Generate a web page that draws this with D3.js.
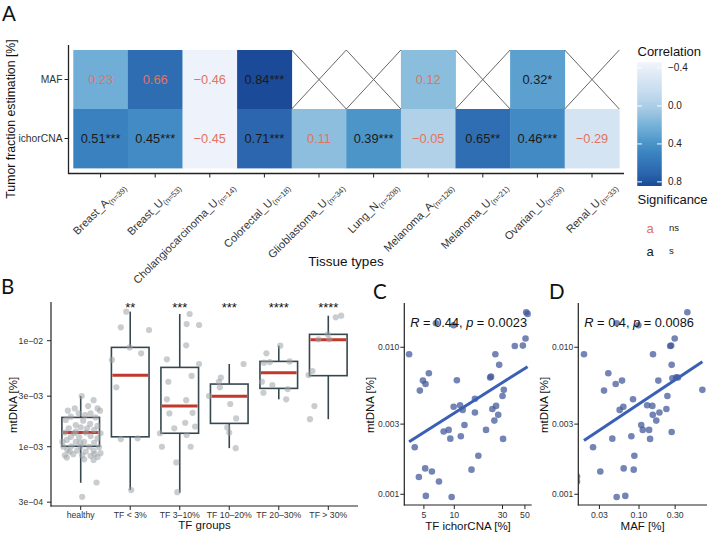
<!DOCTYPE html>
<html><head><meta charset="utf-8">
<script src="https://cdn.jsdelivr.net/npm/d3@7"></script>
<style>body{margin:0;background:#fff}svg{display:block}text{font-family:"Liberation Sans",Arial,sans-serif}</style>
</head><body><svg id="c" width="708" height="533"></svg>
<script>
// ---------------- DATA ----------------
const tissues = ["Breast_A","Breast_U","Cholangiocarcinoma_U","Colorectal_U","Glioblastoma_U","Lung_N","Melanoma_A","Melanoma_U","Ovarian_U","Renal_U"];
const tissueN = [39,53,14,18,34,208,126,21,59,33];
const methods = ["MAF","ichorCNA"];
const corMAF   = [0.23,0.66,-0.46,0.84,null,null,0.12,null,0.32,null];
const sigMAF   = ["","","","***",null,null,"",null,"*",null];
const corIchor = [0.51,0.45,-0.45,0.71,0.11,0.39,-0.05,0.65,0.46,-0.29];
const sigIchor = ["***","***","","***","","***","","**","***",""];
const corTicks = [-0.4,0.0,0.4,0.8];

const tfGroups = ["healthy","TF < 3%","TF 3–10%","TF 10–20%","TF 20–30%","TF > 30%"];
const groupStars = ["","**","***","***","****","****"];
const boxLow  = [0.000457,0.00039,0.000368,0.00097,0.0028,0.00182];
const boxQ1   = [0.00101,0.00124,0.00134,0.00166,0.00355,0.00468];
const boxMed  = [0.00136,0.00471,0.00242,0.00299,0.00499,0.0102];
const boxQ3   = [0.00189,0.00865,0.0056,0.0039,0.00638,0.01148];
const boxHigh = [0.00301,0.0188,0.01786,0.00603,0.00897,0.01722];
const bTicks = [0.0003,0.001,0.003,0.01];
const bTickLabels = ["3e\u221204","1e\u221203","3e\u221203","1e\u221202"];

const mtHealthy = [0.00301,0.00275,0.00242,0.00230,0.00219,0.00230,0.00219,0.00206,0.00199,0.00206,0.00192,0.00189,0.00179,0.00176,0.00160,0.00164,0.00157,0.00149,0.00152,0.00144,0.00136,0.00134,0.00136,0.00134,0.00124,0.00123,0.00126,0.00120,0.00116,0.00111,0.00111,0.00109,0.00100,0.00101,0.00100,0.00100,0.00099,0.00093,0.00092,0.00090,0.00092,0.00087,0.00083,0.00085,0.00083,0.00082,0.00080,0.00079,0.00075,0.00076,0.00046,0.000337,0.00139,0.00149,0.00111,0.00109,0.00090,0.00085];
const jitHealthy = [0.02,0.26,0.15,-0.12,-0.26,0.34,0.39,-0.04,0.09,0.20,-0.20,0.30,-0.30,0.05,-0.10,0.19,0.34,-0.24,0.00,0.27,-0.32,-0.13,0.10,0.40,-0.20,-0.03,0.20,0.34,-0.28,-0.10,0.07,0.27,-0.35,-0.19,0.00,0.17,0.37,-0.27,-0.07,0.10,0.26,0.40,-0.32,-0.15,0.03,0.20,0.34,-0.28,0.26,0.07,0.32,0.03,-0.10,0.13,-0.37,-0.01,-0.22,0.28];
const mtTF3 = [0.0188,0.01337,0.01262,0.00865,0.0076,0.00658,0.00363,0.00118,0.0012,0.00039];
const jitTF3 = [-0.08,-0.19,0.38,-0.01,0.22,-0.37,-0.28,-0.19,0.15,0.02];
const mtTF3to10 = [0.01786,0.01436,0.01406,0.00904,0.00667,0.00603,0.00465,0.00410,0.00275,0.00280,0.00206,0.00209,0.00168,0.00149,0.00155,0.00134,0.00129,0.00100,0.00100,0.000711,0.000373];
const jitTF3to10 = [0.20,0.14,0.39,0.13,-0.26,0.39,0.24,-0.23,0.13,-0.26,-0.21,0.26,0.11,-0.11,0.31,-0.40,0.14,-0.36,0.22,-0.07,-0.05];
const mtTF10to20 = [0.00603,0.00448,0.00410,0.00363,0.00301,0.00253,0.00185,0.00152,0.00136,0.00097];
const jitTF10to20 = [0.29,-0.17,-0.21,-0.19,-0.41,0.02,0.14,-0.04,0.00,0.13];
const mtTF20to30 = [0.00897,0.0076,0.00620,0.00629,0.00638,0.00410,0.00382,0.00350,0.00323,0.00280];
const jitTF20to30 = [0.03,-0.25,-0.30,-0.18,0.22,-0.34,-0.13,0.18,-0.31,0.15];
const mtTF30 = [0.0166,0.01722,0.01148,0.0103,0.0103,0.00518,0.00474,0.00242,0.00182];
const jitTF30 = [0.15,0.26,-0.01,-0.20,0.02,-0.32,-0.40,-0.28,-0.37];

const cTF = [3.57,4.06,4.46,4.56,4.89,5.15,5.19,5.23,5.60,6.00,6.58,7.05,7.84,8.79,9.13,9.41,9.85,9.85,10.6,11.4,11.6,12.1,12.6,14.8,16.0,16.0,17.3,20.6,22.6,23.1,23.8,24.9,25.5,25.9,27.2,27.8,30.0,30.4,30.9,39.7,47.7,50.7,51.5,53.1];
const cMt = [0.00896,0.00209,0.00131,0.00507,0.00593,0.00150,0.00563,0.000975,0.00665,0.00143,0.01455,0.00122,0.00267,0.00274,0.00239,0.000959,0.00394,0.01413,0.00597,0.00403,0.00248,0.00375,0.00296,0.00147,0.00446,0.00360,0.00183,0.00274,0.00622,0.00631,0.00380,0.00317,0.00896,0.00399,0.00347,0.00759,0.00466,0.00238,0.00513,0.0102,0.01026,0.01146,0.01730,0.01686];
const cFit = [[3.57,0.00228],[53.1,0.00738]];
const cR = "0.44", cP = "0.0023";
const cXTicks = [5,10,30,50];

const dMAF = [0.0152,0.0152,0.01875,0.0247,0.0308,0.0345,0.0393,0.0444,0.0492,0.0507,0.0507,0.0555,0.0596,0.0621,0.0627,0.0659,0.0792,0.0833,0.0851,0.0868,0.098,0.107,0.112,0.128,0.136,0.140,0.150,0.152,0.153,0.180,0.169,0.186,0.230,0.237,0.258,0.266,0.270,0.270,0.276,0.296,0.311,0.327,0.435,0.687];
const dMt = [0.00132,0.00122,0.00896,0.00209,0.00143,0.00507,0.00665,0.00239,0.00563,0.01455,0.000959,0.00375,0.00593,0.00394,0.00150,0.000975,0.00248,0.00443,0.00147,0.00183,0.01413,0.00296,0.00274,0.00403,0.00274,0.00238,0.00399,0.00347,0.00896,0.00593,0.00317,0.00360,0.00380,0.00466,0.0102,0.01026,0.00759,0.00265,0.00615,0.01146,0.00625,0.00622,0.0173,0.00513];
const dFit = [[0.01875,0.00232],[0.687,0.00798]];
const dR = "0.4", dP = "0.0086";
const dXTicks = [0.03,0.1,0.3];
const mtTicks = [0.001,0.003,0.01];

// ---------------- DRAW ----------------
const svg = d3.select("#c");
const AX = "#222", TXT = "#333", RED = "#e07460";

// panel letters
[["A",2,21],["B",1,294],["C",373,298.5],["D",549,298.5]].forEach(([t,x,y])=>
  svg.append("text").attr("x",x).attr("y",y).text(t)
    .style("font-family","Lato, 'Open Sans', sans-serif").style("font-size","20.5px").attr("fill","#111"));

// ===== Panel A =====
const gA = svg.append("g");
const hx = d3.scaleBand().domain(tissues).range([73.3,619.3]);
const hy = d3.scaleBand().domain(methods).range([50,168]);
const heatColor = d3.scaleLinear()
  .domain([-0.46,-0.29,-0.05,0.11,0.23,0.39,0.51,0.71,0.84])
  .range(["#eef3fb","#d5e4f3","#b1d1e8","#8dbedd","#70aed7","#4c95c9","#3a82bf","#2b66ae","#1b4b98"])
  .interpolate(d3.interpolateLab).clamp(true);
const cells = [];
methods.forEach((m,i)=>{
  const cor = i===0?corMAF:corIchor, sig = i===0?sigMAF:sigIchor;
  tissues.forEach((t,j)=>cells.push({m,t,v:cor[j],s:sig[j]}));
});
const bw = hx.bandwidth(), bh = hy.bandwidth();
gA.selectAll("rect.cell").data(cells.filter(d=>d.v!==null)).join("rect")
  .attr("x",d=>hx(d.t)).attr("y",d=>hy(d.m)).attr("width",bw+0.4).attr("height",bh+0.4)
  .attr("fill",d=>heatColor(d.v));
const na = cells.filter(d=>d.v===null);
gA.selectAll("line.x1").data(na).join("line")
  .attr("x1",d=>hx(d.t)).attr("y1",d=>hy(d.m)).attr("x2",d=>hx(d.t)+bw).attr("y2",d=>hy(d.m)+bh)
  .attr("stroke","#666").attr("stroke-width",1);
gA.selectAll("line.x2").data(na).join("line")
  .attr("x1",d=>hx(d.t)+bw).attr("y1",d=>hy(d.m)).attr("x2",d=>hx(d.t)).attr("y2",d=>hy(d.m)+bh)
  .attr("stroke","#666").attr("stroke-width",1);
const f2 = d3.format(".2f");
gA.selectAll("text.val").data(cells.filter(d=>d.v!==null)).join("text")
  .attr("x",d=>hx(d.t)+bw/2).attr("y",d=>hy(d.m)+bh/2).attr("dy","0.36em")
  .attr("text-anchor","middle").style("font-size","12.8px")
  .attr("fill",d=>d.s?"#1a1a1a":RED).text(d=>f2(d.v)+d.s);
// axes
gA.append("line").attr("x1",68.5).attr("x2",68.5).attr("y1",45).attr("y2",174).attr("stroke",AX).attr("stroke-width",1.3);
gA.append("line").attr("x1",68).attr("x2",624).attr("y1",173.5).attr("y2",173.5).attr("stroke",AX).attr("stroke-width",1.3);
methods.forEach(m=>{
  const y = hy(m)+bh/2;
  gA.append("line").attr("x1",64.5).attr("x2",68.5).attr("y1",y).attr("y2",y).attr("stroke",AX);
  gA.append("text").attr("x",62.5).attr("y",y).attr("dy","0.35em").attr("text-anchor","end")
    .style("font-size","10.3px").attr("fill",TXT).text(m);
});
tissues.forEach((t,j)=>{
  const x = hx(t)+bw/2;
  gA.append("line").attr("x1",x).attr("x2",x).attr("y1",173.5).attr("y2",177.5).attr("stroke",AX);
  const lab = gA.append("text").attr("transform",`translate(${x+25},${187.5}) rotate(-45)`)
    .attr("text-anchor","end").style("font-size","11px").attr("fill",TXT);
  lab.append("tspan").text(t);
  lab.append("tspan").attr("dy",2.8).style("font-size","7.8px").text(`(n=${tissueN[j]})`);
});
gA.append("text").attr("x",346).attr("y",266).attr("text-anchor","middle").style("font-size","13.5px").attr("fill","#111").text("Tissue types");
gA.append("text").attr("transform","translate(15,119) rotate(-90)").attr("text-anchor","middle")
  .style("font-size","12.3px").attr("fill","#111").text("Tumor fraction estimation [%]");

// legend
const gL = svg.append("g");
gL.append("text").attr("x",637.5).attr("y",55.5).style("font-size","13px").attr("fill","#111").text("Correlation");
const ly = d3.scaleLinear().domain([-0.46,0.84]).range([62.3,185.7]);
const nStrip = 124;
d3.range(nStrip).forEach(i=>{
  const v0 = -0.46 + i*1.30/nStrip;
  gL.append("rect").attr("x",637.3).attr("y",ly(v0)).attr("width",24.4).attr("height",ly(v0+1.30/nStrip)-ly(v0)+0.3)
    .attr("fill",heatColor(v0+0.65/nStrip));
});
const f1 = d3.format(".1f");
corTicks.forEach(v=>{
  const y = ly(v);
  gL.append("line").attr("x1",637.3).attr("x2",642).attr("y1",y).attr("y2",y).attr("stroke","#fff").attr("stroke-width",1);
  gL.append("line").attr("x1",657).attr("x2",661.7).attr("y1",y).attr("y2",y).attr("stroke","#fff").attr("stroke-width",1);
  gL.append("text").attr("x",668).attr("y",y).attr("dy","0.35em").style("font-size","10px").attr("fill","#222").text(f1(v));
});
gL.append("text").attr("x",637.5).attr("y",203.5).style("font-size","13px").attr("fill","#111").text("Significance");
[["ns",RED,228],["s","#1a1a1a",251]].forEach(([l,c,y])=>{
  gL.append("text").attr("x",650).attr("y",y).attr("dy","0.35em").attr("text-anchor","middle").style("font-size","13px").attr("fill",c).text("a");
  gL.append("text").attr("x",669).attr("y",y).attr("dy","0.3em").style("font-size","9.5px").attr("fill","#222").text(l);
});

// ===== Panel B =====
const gB = svg.append("g");
const bx = d3.scalePoint().domain(tfGroups).range([51,358]).padding(0.6);
const by = d3.scaleLog().domain([Math.pow(10,-3.559),Math.pow(10,-1.635)]).range([506,302]);
const step = bx.step(), boxW = step*0.76;
const BOX = "#37474f";
const pointsB = [];
[[mtHealthy,jitHealthy],[mtTF3,jitTF3],[mtTF3to10,jitTF3to10],[mtTF10to20,jitTF10to20],[mtTF20to30,jitTF20to30],[mtTF30,jitTF30]]
  .forEach(([vals,jit],gi)=>vals.forEach((v,k)=>pointsB.push({g:tfGroups[gi],v,j:jit[k]})));
tfGroups.forEach((g,i)=>{
  const cx = bx(g);
  gB.append("line").attr("x1",cx).attr("x2",cx).attr("y1",by(boxLow[i])).attr("y2",by(boxQ1[i])).attr("stroke",BOX).attr("stroke-width",1.6);
  gB.append("line").attr("x1",cx).attr("x2",cx).attr("y1",by(boxQ3[i])).attr("y2",by(boxHigh[i])).attr("stroke",BOX).attr("stroke-width",1.6);
  gB.append("rect").attr("x",cx-boxW/2).attr("y",by(boxQ3[i])).attr("width",boxW).attr("height",by(boxQ1[i])-by(boxQ3[i]))
    .attr("fill","#fff").attr("stroke",BOX).attr("stroke-width",1.6);
  gB.append("line").attr("x1",cx-boxW/2+1).attr("x2",cx+boxW/2-1).attr("y1",by(boxMed[i])).attr("y2",by(boxMed[i]))
    .attr("stroke","#c0392b").attr("stroke-width",3);
  gB.append("text").attr("x",cx).attr("y",312).attr("text-anchor","middle").style("font-size","13px").attr("fill","#111").text(groupStars[i]);
});
gB.selectAll("circle").data(pointsB).join("circle")
  .attr("cx",d=>bx(d.g)+d.j*step).attr("cy",d=>by(d.v)).attr("r",3.1)
  .attr("fill","#9ea4a7").attr("fill-opacity",0.55);
gB.append("line").attr("x1",51).attr("x2",51).attr("y1",302).attr("y2",506.5).attr("stroke",AX).attr("stroke-width",1.2);
gB.append("line").attr("x1",50.5).attr("x2",358).attr("y1",506).attr("y2",506).attr("stroke",AX).attr("stroke-width",1.2);
bTicks.forEach((t,i)=>{
  const y = by(t);
  gB.append("line").attr("x1",47).attr("x2",51).attr("y1",y).attr("y2",y).attr("stroke",AX);
  gB.append("text").attr("x",43).attr("y",y).attr("dy","0.35em").attr("text-anchor","end").style("font-size","8.7px").attr("fill",TXT).text(bTickLabels[i]);
});
tfGroups.forEach(g=>{
  const x = bx(g);
  gB.append("line").attr("x1",x).attr("x2",x).attr("y1",506).attr("y2",510).attr("stroke",AX);
  gB.append("text").attr("x",x).attr("y",517.5).attr("text-anchor","middle").style("font-size","8.7px").attr("fill",TXT).text(g);
});
gB.append("text").attr("x",204.5).attr("y",529).attr("text-anchor","middle").style("font-size","11.5px").attr("fill","#111").text("TF groups");
gB.append("text").attr("transform","translate(16.5,405) rotate(-90)").attr("text-anchor","middle").style("font-size","11.5px").attr("fill","#111").text("mtDNA [%]");

// ===== Panels C & D =====
function scatter(opt){
  const g = svg.append("g");
  const x = d3.scaleLog().domain(opt.xd).range([opt.x0,opt.x1]);
  const y = d3.scaleLog().domain([Math.pow(10,-3.073),Math.pow(10,-1.699)]).range([505,303]);
  const id = "clip"+opt.id;
  svg.append("clipPath").attr("id",id).append("rect").attr("x",opt.x0).attr("y",303).attr("width",opt.x1-opt.x0).attr("height",202);
  const pg = g.append("g").attr("clip-path",`url(#${id})`);
  pg.selectAll("circle").data(opt.xs.map((v,i)=>[v,opt.ys[i]])).join("circle")
    .attr("cx",d=>x(d[0])).attr("cy",d=>y(d[1])).attr("r",3.3)
    .attr("fill","#3f5597").attr("fill-opacity",0.72);
  pg.append("line").attr("x1",x(opt.fit[0][0])).attr("y1",y(opt.fit[0][1])).attr("x2",x(opt.fit[1][0])).attr("y2",y(opt.fit[1][1]))
    .attr("stroke","#3b5fb5").attr("stroke-width",3);
  const t = g.append("text").attr("x",opt.x0+6).attr("y",327).style("font-size","12.8px").attr("fill","#111");
  t.append("tspan").style("font-style","italic").text("R");
  t.append("tspan").text(` = ${opt.r}, `);
  t.append("tspan").style("font-style","italic").text("p");
  t.append("tspan").text(` = ${opt.p}`);
  g.append("line").attr("x1",opt.x0).attr("x2",opt.x0).attr("y1",303).attr("y2",505.5).attr("stroke",AX).attr("stroke-width",1.2);
  g.append("line").attr("x1",opt.x0-0.5).attr("x2",opt.x1).attr("y1",505).attr("y2",505).attr("stroke",AX).attr("stroke-width",1.2);
  const fy = d3.format(".3f");
  mtTicks.forEach(v=>{
    const yy = y(v);
    g.append("line").attr("x1",opt.x0-4).attr("x2",opt.x0).attr("y1",yy).attr("y2",yy).attr("stroke",AX);
    g.append("text").attr("x",opt.x0-5).attr("y",yy).attr("dy","0.35em").attr("text-anchor","end").style("font-size","8.5px").attr("fill",TXT).text(fy(v));
  });
  opt.xt.forEach(v=>{
    const xx = x(v);
    g.append("line").attr("x1",xx).attr("x2",xx).attr("y1",505).attr("y2",509).attr("stroke",AX);
    g.append("text").attr("x",xx).attr("y",518).attr("text-anchor","middle").style("font-size","8.7px").attr("fill",TXT).text(opt.xf(v));
  });
  g.append("text").attr("x",(opt.x0+opt.x1)/2).attr("y",529.5).attr("text-anchor","middle").style("font-size","11.5px").attr("fill","#111").text(opt.xl);
  g.append("text").attr("transform",`translate(${opt.x0-30},405) rotate(-90)`).attr("text-anchor","middle").style("font-size","11.5px").attr("fill","#111").text("mtDNA [%]");
}
scatter({id:"C",x0:404.3,x1:531.7,xd:[Math.pow(10,0.505),Math.pow(10,1.766)],xs:cTF,ys:cMt,fit:cFit,r:cR,p:cP,xt:cXTicks,xf:d3.format("d"),xl:"TF ichorCNA [%]"});
scatter({id:"D",x0:578.3,x1:707,xd:[Math.pow(10,-1.802),Math.pow(10,-0.102)],xs:dMAF,ys:dMt,fit:dFit,r:dR,p:dP,xt:dXTicks,xf:d3.format(".2f"),xl:"MAF [%]"});
</script></body></html>
